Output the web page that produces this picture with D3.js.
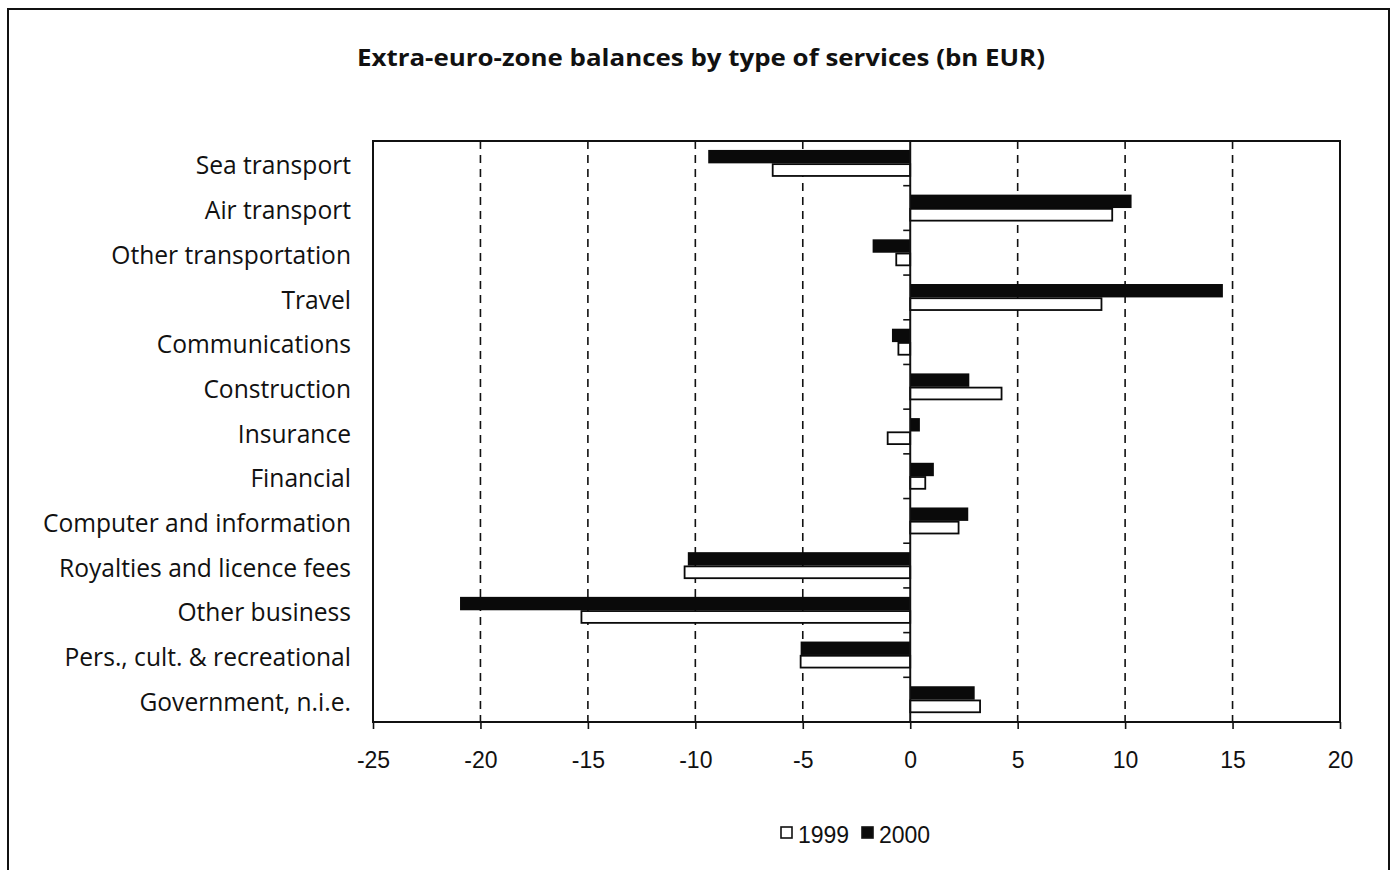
<!DOCTYPE html>
<html>
<head>
<meta charset="utf-8">
<script src="https://cdn.jsdelivr.net/npm/d3@7"></script>
<style>
  body { margin: 0; background: #fff; }
  svg { display: block; }
  .cat text { font-family: "Open Sans", sans-serif; font-size: 24.6px; fill: #111; }
  .x.axis text { font-family: "Liberation Sans", Arial, sans-serif; font-size: 23px; fill: #111; }
  .legend text { font-family: "Liberation Sans", Arial, sans-serif; font-size: 23px; fill: #111; }
</style>
</head>
<body>
<script>
// data (bn EUR)
const categories = [
  "Sea transport", "Air transport", "Other transportation", "Travel",
  "Communications", "Construction", "Insurance", "Financial",
  "Computer and information", "Royalties and licence fees", "Other business",
  "Pers., cult. & recreational", "Government, n.i.e."
];
const values1999 = [-6.4, 9.4, -0.65, 8.9, -0.55, 4.25, -1.05, 0.7, 2.25, -10.5, -15.3, -5.1, 3.25];
const values2000 = [-9.4, 10.3, -1.75, 14.55, -0.85, 2.75, 0.45, 1.1, 2.7, -10.35, -20.95, -5.1, 3.0];
const series = ["2000", "1999"];
const xTicks = [-25, -20, -15, -10, -5, 0, 5, 10, 15, 20];
const gridTicks = [-20, -15, -10, -5, 5, 10, 15];

const W = 1392, H = 870;
const margin = { top: 141, left: 373, right: 52, bottom: 148 };
const width = W - margin.left - margin.right;
const height = H - margin.top - margin.bottom;

const svg = d3.select("body").append("svg").attr("width", W).attr("height", H);

// outer frame (bottom edge runs off the page)
svg.append("rect")
  .attr("x", 8).attr("y", 9).attr("width", 1381).attr("height", 900)
  .attr("fill", "#fff").attr("stroke", "#111").attr("stroke-width", 2);

svg.append("text")
  .attr("x", 701).attr("y", 66)
  .attr("text-anchor", "middle")
  .style("font-family", "'Open Sans', sans-serif")
  .style("font-weight", "bold")
  .style("font-size", "23px")
  .style("fill", "#111")
  .attr("textLength", 688)
  .attr("lengthAdjust", "spacingAndGlyphs")
  .text("Extra-euro-zone balances by type of services (bn EUR)");

const g = svg.append("g").attr("transform", `translate(${margin.left},${margin.top})`);

// scales
const x = d3.scaleLinear().domain([-25, 20]).range([0, width]);
const y = d3.scaleBand().domain(categories).range([0, height]).paddingInner(0.4).paddingOuter(0.2);
const ySub = d3.scaleBand().domain(series).range([0, y.bandwidth()]);

// dashed grid
g.selectAll("line.grid")
  .data(gridTicks)
  .join("line")
  .attr("class", "grid")
  .attr("x1", d => x(d)).attr("x2", d => x(d))
  .attr("y1", 0).attr("y2", height)
  .attr("stroke", "#111").attr("stroke-width", 1.6)
  .attr("stroke-dasharray", "8,6");

// bars
const rows = categories.map((c, i) => ({ cat: c, "1999": values1999[i], "2000": values2000[i] }));
const grp = g.selectAll("g.row")
  .data(rows)
  .join("g")
  .attr("class", "row")
  .attr("transform", d => `translate(0,${y(d.cat)})`);

grp.selectAll("rect")
  .data(d => series.map(s => ({ s, v: d[s] })))
  .join("rect")
  .attr("x", d => x(Math.min(0, d.v)))
  .attr("width", d => Math.abs(x(d.v) - x(0)))
  .attr("y", d => ySub(d.s) + (d.s === "1999" ? 0.8 : 0))
  .attr("height", d => ySub.bandwidth() - (d.s === "1999" ? 1.6 : 0))
  .attr("fill", d => d.s === "2000" ? "#0a0a0a" : "#fff")
  .attr("stroke", d => d.s === "1999" ? "#0a0a0a" : "none")
  .attr("stroke-width", 1.8);

// zero axis with category boundary ticks
g.append("line")
  .attr("x1", x(0)).attr("x2", x(0))
  .attr("y1", 0).attr("y2", height)
  .attr("stroke", "#111").attr("stroke-width", 2);
g.selectAll("line.ztick")
  .data(d3.range(1, categories.length))
  .join("line")
  .attr("class", "ztick")
  .attr("x1", x(0) - 7).attr("x2", x(0))
  .attr("y1", i => i * y.step()).attr("y2", i => i * y.step())
  .attr("stroke", "#111").attr("stroke-width", 1.6);

// plot frame
g.append("rect")
  .attr("width", width).attr("height", height)
  .attr("fill", "none").attr("stroke", "#111").attr("stroke-width", 2);

// x axis
const xaxis = d3.axisBottom(x).tickValues(xTicks).tickSize(7).tickPadding(23).tickFormat(d3.format("d"));
const gx = g.append("g").attr("class", "x axis")
  .attr("transform", `translate(0,${height})`)
  .call(xaxis);
gx.select(".domain").remove();
gx.selectAll("line").attr("stroke", "#111").attr("stroke-width", 1.6);
gx.selectAll("text").text(d => d < 0 ? "-" + Math.abs(d) : d);

// category labels
const yaxis = d3.axisLeft(y).tickSize(0).tickPadding(22);
const gy = g.append("g").attr("class", "cat").call(yaxis);
gy.select(".domain").remove();
gy.selectAll("text").attr("dy", "0.45em");

// legend
const legend = svg.append("g").attr("class", "legend").attr("transform", "translate(780,826)");
const legendItems = [
  { s: "1999", x: 0, fill: "#fff" },
  { s: "2000", x: 81, fill: "#0a0a0a" }
];
const li = legend.selectAll("g").data(legendItems).join("g")
  .attr("transform", d => `translate(${d.x},0)`);
li.append("rect")
  .attr("x", 1).attr("y", 1).attr("width", 11).attr("height", 11)
  .attr("fill", d => d.fill).attr("stroke", "#111").attr("stroke-width", 1.6);
li.append("text").attr("x", 18).attr("y", 17).text(d => d.s);
</script>
</body>
</html>
